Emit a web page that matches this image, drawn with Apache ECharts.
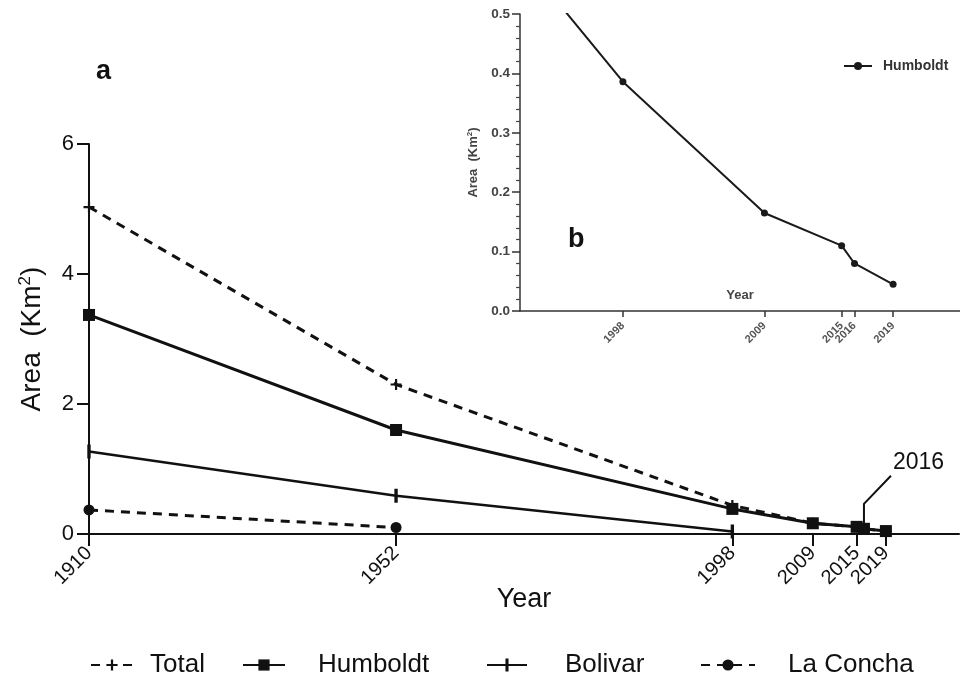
<!DOCTYPE html>
<html><head><meta charset="utf-8">
<script src="https://cdn.jsdelivr.net/npm/echarts@6/dist/echarts.min.js"></script>
<style>html,body{margin:0;padding:0;background:#fff}#c{width:960px;height:688px}</style>
</head><body><div id="c"></div>
<script>
const years = [1910, 1952, 1998, 2009, 2015, 2016, 2019];
const totalVals = [5.03, 2.3, 0.44, 0.165, 0.11, 0.08, 0.045];
const humboldtVals = [3.37, 1.6, 0.386, 0.165, 0.11, 0.08, 0.045];
const bolivarYears = [1910, 1952, 1998];
const bolivarVals = [1.27, 0.59, 0.04];
const laConchaYears = [1910, 1952];
const laConchaVals = [0.37, 0.1];
const mainTicks = [1910, 1952, 1998, 2009, 2015, 2019];
const insetTicks = [1998, 2009, 2015, 2016, 2019];
const calloutYear = 2016;
const calloutValue = 0.08;

const pair = (xs, ys) => xs.map((x, i) => [x, ys[i]]);
const FONT = 'Liberation Sans, Arial, sans-serif';
const INK = '#111';
const GREY = '#444';

const plusSym = 'path://M4,0h2v10h-2z M0,4h10v2h-10z';
const barSym = 'path://M3.8,0h2.4v10h-2.4z M0,5h0.01 M10,5h0.01';

const chart = echarts.init(document.getElementById('c'));
const option = {
  backgroundColor: '#fff',
  animation: false,
  textStyle: { fontFamily: FONT, color: INK },
  grid: [
    { left: 89, top: 144, right: 1, bottom: 154 },
    { left: 520, top: 14, right: 0, bottom: 377 }
  ],
  xAxis: [
    {
      gridIndex: 0, type: 'value', min: 1910, max: 2029,
      name: 'Year', nameLocation: 'middle', nameGap: 52, nameMoveOverlap: false,
      nameTextStyle: { fontSize: 27, color: INK, fontFamily: FONT },
      axisLine: { lineStyle: { color: INK, width: 2 } },
      axisTick: { customValues: mainTicks, length: 12, lineStyle: { color: INK, width: 2 } },
      axisLabel: { customValues: mainTicks, rotate: 45, fontSize: 20, color: INK, margin: 16, fontFamily: FONT,
        formatter: v => String(v) },
      splitLine: { show: false }
    },
    {
      gridIndex: 1, type: 'value', min: 1990, max: 2024.2,
      name: 'Year', nameLocation: 'middle', nameGap: -22, nameMoveOverlap: false,
      nameTextStyle: { fontSize: 13, fontWeight: 'bold', color: GREY, fontFamily: FONT },
      axisLine: { lineStyle: { color: '#333', width: 1.5 } },
      axisTick: { customValues: insetTicks, length: 6, lineStyle: { color: '#333', width: 1.5 } },
      axisLabel: { customValues: insetTicks, rotate: 45, fontSize: 11, fontWeight: 'bold', color: '#555', margin: 13, fontFamily: FONT,
        formatter: v => String(v) },
      splitLine: { show: false }
    }
  ],
  yAxis: [
    {
      gridIndex: 0, type: 'value', min: 0, max: 6, interval: 2,
      name: '{a|Area  (Km}{s|2}{a|)}', nameLocation: 'middle', nameGap: 42,
      nameTextStyle: {
        rich: {
          a: { fontSize: 28, color: INK, fontFamily: FONT },
          s: { fontSize: 17, color: INK, fontFamily: FONT, padding: [0, 0, 13, 0] }
        }
      },
      axisLine: { show: true, lineStyle: { color: INK, width: 2 } },
      axisTick: { show: true, length: 12, lineStyle: { color: INK, width: 2 } },
      axisLabel: { fontSize: 22, color: INK, margin: 15, fontFamily: FONT },
      splitLine: { show: false }
    },
    {
      gridIndex: 1, type: 'value', min: 0, max: 0.5, interval: 0.1,
      name: '{a|Area  (Km}{s|2}{a|)}', nameLocation: 'middle', nameGap: 40,
      nameTextStyle: {
        rich: {
          a: { fontSize: 13, fontWeight: 'bold', color: GREY, fontFamily: FONT },
          s: { fontSize: 8, fontWeight: 'bold', color: GREY, fontFamily: FONT, padding: [0, 0, 6, 0] }
        }
      },
      axisLine: { show: true, lineStyle: { color: '#333', width: 1.5 } },
      axisTick: { show: true, length: 8, lineStyle: { color: '#333', width: 1.5 } },
      minorTick: { show: true, splitNumber: 5, length: 4, lineStyle: { color: '#444', width: 1.2 } },
      axisLabel: { fontSize: 13.5, fontWeight: 'bold', color: GREY, margin: 10, fontFamily: FONT,
        formatter: v => v.toFixed(1) },
      splitLine: { show: false }
    }
  ],
  legend: [
    { data: ['Total'], left: 85, top: 647, itemWidth: 42, itemHeight: 14,
      textStyle: { fontSize: 26, color: INK, fontFamily: FONT, padding: [0, 0, 0, 12] } },
    { data: ['Humboldt'], left: 237, top: 647, itemWidth: 42, itemHeight: 14,
      textStyle: { fontSize: 26, color: INK, fontFamily: FONT, padding: [0, 0, 0, 28] } },
    { data: ['Bolivar'], left: 481, top: 647, itemWidth: 40, itemHeight: 16,
      textStyle: { fontSize: 26, color: INK, fontFamily: FONT, padding: [0, 0, 0, 33] } },
    { data: ['La Concha'], left: 695, top: 647, itemWidth: 54, itemHeight: 14,
      textStyle: { fontSize: 26, color: INK, fontFamily: FONT, padding: [0, 0, 0, 28] } },
    { data: ['Humboldt (b)'], left: 838, top: 54, itemWidth: 28, itemHeight: 10,
      formatter: () => 'Humboldt',
      textStyle: { fontSize: 14, fontWeight: 'bold', color: '#333', fontFamily: FONT, padding: [0, 0, 0, 6] } }
  ],
  series: [
    {
      name: 'Total', type: 'line', xAxisIndex: 0, yAxisIndex: 0,
      data: pair(years, totalVals),
      symbol: plusSym, symbolSize: 11,
      lineStyle: { color: INK, width: 3, type: [9, 7] },
      itemStyle: { color: INK }
    },
    {
      name: 'Humboldt', type: 'line', xAxisIndex: 0, yAxisIndex: 0,
      data: pair(years, humboldtVals),
      symbol: 'rect', symbolSize: 12,
      lineStyle: { color: INK, width: 3 },
      itemStyle: { color: INK }
    },
    {
      name: 'Bolivar', type: 'line', xAxisIndex: 0, yAxisIndex: 0,
      data: pair(bolivarYears, bolivarVals),
      symbol: barSym, symbolSize: 14,
      lineStyle: { color: INK, width: 2.5 },
      itemStyle: { color: INK }
    },
    {
      name: 'La Concha', type: 'line', xAxisIndex: 0, yAxisIndex: 0,
      data: pair(laConchaYears, laConchaVals),
      symbol: 'circle', symbolSize: 11,
      lineStyle: { color: INK, width: 3, type: [9, 7] },
      itemStyle: { color: INK }
    },
    {
      name: 'Humboldt (b)', type: 'line', xAxisIndex: 1, yAxisIndex: 1,
      data: pair(years, humboldtVals),
      clip: true,
      symbol: 'circle', symbolSize: 7,
      lineStyle: { color: '#1a1a1a', width: 2 },
      itemStyle: { color: '#1a1a1a' }
    }
  ]
};
chart.setOption(option);

const p = chart.convertToPixel({ xAxisIndex: 0, yAxisIndex: 0 }, [calloutYear, calloutValue]);
chart.setOption({
  graphic: [
    { type: 'polyline', silent: true,
      shape: { points: [[p[0], p[1] - 4], [p[0], p[1] - 25], [p[0] + 27, p[1] - 53]] },
      style: { stroke: INK, lineWidth: 2, fill: null } },
    { type: 'text', silent: true, left: p[0] + 29, top: p[1] - 78,
      style: { text: String(calloutYear), fontSize: 23, fill: INK, fontFamily: FONT } },
    { type: 'text', silent: true, left: 96, top: 58,
      style: { text: 'a', fontSize: 27, fontWeight: 'bold', fill: INK, fontFamily: FONT } },
    { type: 'text', silent: true, left: 568, top: 226,
      style: { text: 'b', fontSize: 27, fontWeight: 'bold', fill: INK, fontFamily: FONT } }
  ]
});
</script>
</body></html>
